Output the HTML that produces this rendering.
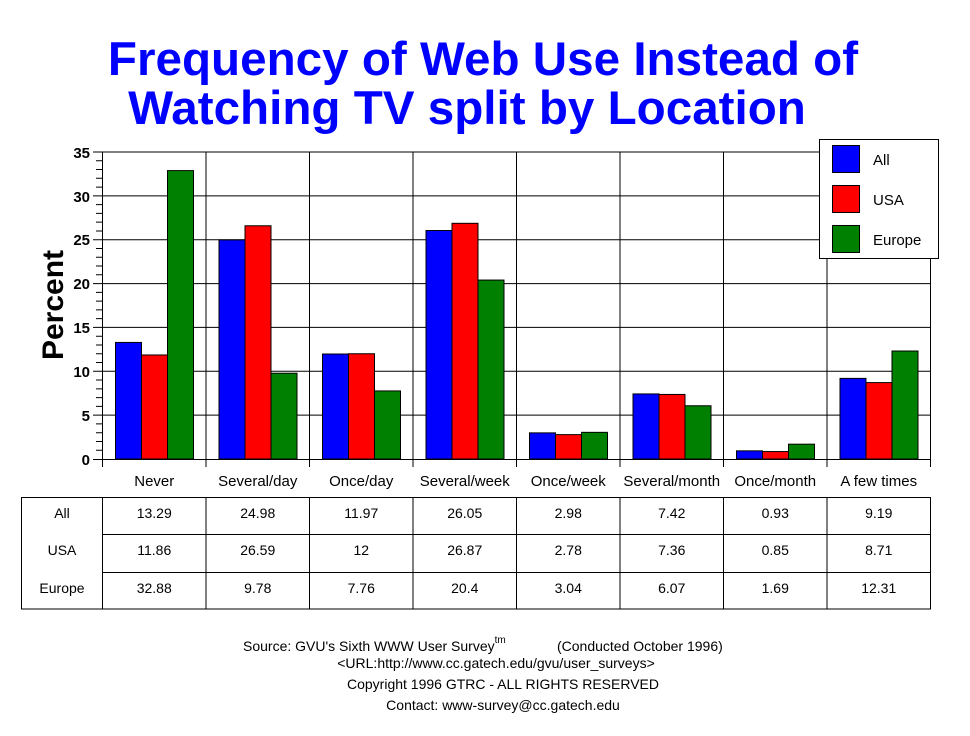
<!DOCTYPE html><html><head><style>body{margin:0;background:#fff}svg{display:block}text{font-family:"Liberation Sans",Arial,sans-serif}</style></head><body>
<svg width="970" height="736" xmlns="http://www.w3.org/2000/svg">
<text x="483" y="75" font-size="47.6" font-weight="bold" fill="#0000ff" text-anchor="middle">Frequency of Web Use Instead of</text>
<text x="467" y="124" font-size="47.6" font-weight="bold" fill="#0000ff" text-anchor="middle">Watching TV split by Location</text>
<text transform="translate(63,305) rotate(-90)" font-size="30" font-weight="bold" text-anchor="middle">Percent</text>
<g stroke="#000" stroke-width="1" fill="none">
<path d="M96 450.23H102.5M96 441.46H102.5M96 432.69H102.5M96 423.91H102.5M96 406.37H102.5M96 397.6H102.5M96 388.83H102.5M96 380.06H102.5M96 362.51H102.5M96 353.74H102.5M96 344.97H102.5M96 336.2H102.5M96 318.66H102.5M96 309.89H102.5M96 301.11H102.5M96 292.34H102.5M96 274.8H102.5M96 266.03H102.5M96 257.26H102.5M96 248.49H102.5M96 230.94H102.5M96 222.17H102.5M96 213.4H102.5M96 204.63H102.5M96 187.09H102.5M96 178.31H102.5M96 169.54H102.5M96 160.77H102.5"/>
<path d="M93 459.5H930M93 415.14H930M93 371.29H930M93 327.43H930M93 283.57H930M93 239.71H930M93 195.86H930M93 152H930"/>
<path d="M102.5 152V467M206 152V467M309.5 152V467M413 152V467M516.5 152V467M620 152V467M723.5 152V467M827 152V467M930.5 152V467"/>
</g>
<g font-size="15" text-anchor="end" font-weight="bold">
<text x="90" y="465">0</text><text x="90" y="421">5</text><text x="90" y="377">10</text><text x="90" y="333">15</text><text x="90" y="289">20</text><text x="90" y="245">25</text><text x="90" y="202">30</text><text x="90" y="158">35</text>
</g>
<g stroke="#000" fill="#0000ff">
<rect x="115.5" y="342.43" width="26" height="116.57"/><rect x="219" y="239.89" width="26" height="219.11"/><rect x="322.5" y="354.01" width="26" height="104.99"/><rect x="426" y="230.5" width="26" height="228.5"/><rect x="529.5" y="432.86" width="26" height="26.14"/><rect x="633" y="393.92" width="26" height="65.08"/><rect x="736.5" y="450.84" width="26" height="8.16"/><rect x="840" y="378.39" width="26" height="80.61"/>
</g>
<g stroke="#000" fill="#ff0000">
<rect x="141.5" y="354.97" width="26" height="104.03"/><rect x="245" y="225.77" width="26" height="233.23"/><rect x="348.5" y="353.74" width="26" height="105.26"/><rect x="452" y="223.31" width="26" height="235.69"/><rect x="555.5" y="434.62" width="26" height="24.38"/><rect x="659" y="394.44" width="26" height="64.56"/><rect x="762.5" y="451.54" width="26" height="7.46"/><rect x="866" y="382.6" width="26" height="76.4"/>
</g>
<g stroke="#000" fill="#008000">
<rect x="167.5" y="170.6" width="26" height="288.4"/><rect x="271" y="373.22" width="26" height="85.78"/><rect x="374.5" y="390.93" width="26" height="68.07"/><rect x="478" y="280.06" width="26" height="178.94"/><rect x="581.5" y="432.34" width="26" height="26.66"/><rect x="685" y="405.76" width="26" height="53.24"/><rect x="788.5" y="444.18" width="26" height="14.82"/><rect x="892" y="351.02" width="26" height="107.98"/>
</g>
<g font-size="15" text-anchor="middle">
<text x="154.25" y="486">Never</text><text x="257.75" y="486">Several/day</text><text x="361.25" y="486">Once/day</text><text x="464.75" y="486">Several/week</text><text x="568.25" y="486">Once/week</text><text x="671.75" y="486">Several/month</text><text x="775.25" y="486">Once/month</text><text x="878.75" y="486">A few times</text>
</g>
<g stroke="#000" fill="none">
<rect x="21.5" y="497.5" width="909" height="111.5"/>
<path d="M102.5 534.5H930M102.5 572.5H930M102.5 497V609M206 497V609M309.5 497V609M413 497V609M516.5 497V609M620 497V609M723.5 497V609M827 497V609"/>
</g>
<g font-size="14" text-anchor="middle">
<text x="62" y="518">All</text><text x="154.25" y="518">13.29</text><text x="257.75" y="518">24.98</text><text x="361.25" y="518">11.97</text><text x="464.75" y="518">26.05</text><text x="568.25" y="518">2.98</text><text x="671.75" y="518">7.42</text><text x="775.25" y="518">0.93</text><text x="878.75" y="518">9.19</text>
<text x="62" y="555">USA</text><text x="154.25" y="555">11.86</text><text x="257.75" y="555">26.59</text><text x="361.25" y="555">12</text><text x="464.75" y="555">26.87</text><text x="568.25" y="555">2.78</text><text x="671.75" y="555">7.36</text><text x="775.25" y="555">0.85</text><text x="878.75" y="555">8.71</text>
<text x="62" y="593">Europe</text><text x="154.25" y="593">32.88</text><text x="257.75" y="593">9.78</text><text x="361.25" y="593">7.76</text><text x="464.75" y="593">20.4</text><text x="568.25" y="593">3.04</text><text x="671.75" y="593">6.07</text><text x="775.25" y="593">1.69</text><text x="878.75" y="593">12.31</text>
</g>
<rect x="819.5" y="139.5" width="119" height="119" fill="#fff" stroke="#000"/>
<rect x="832.5" y="145.5" width="27" height="27" fill="#0000ff" stroke="#000"/>
<rect x="832.5" y="185.5" width="27" height="27" fill="#ff0000" stroke="#000"/>
<rect x="832.5" y="225.5" width="27" height="27" fill="#008000" stroke="#000"/>
<g font-size="15"><text x="873" y="165">All</text><text x="873" y="205">USA</text><text x="873" y="245">Europe</text></g>
<text x="243" y="651" font-size="14">Source: GVU's Sixth WWW User Survey<tspan font-size="10" dy="-8">tm</tspan></text>
<text x="557" y="651" font-size="14">(Conducted October 1996)</text>
<text x="496" y="668" font-size="14" text-anchor="middle">&lt;URL:http://www.cc.gatech.edu/gvu/user_surveys&gt;</text>
<text x="503" y="689" font-size="14" text-anchor="middle">Copyright 1996 GTRC - ALL RIGHTS RESERVED</text>
<text x="503" y="710" font-size="14" text-anchor="middle">Contact: www-survey@cc.gatech.edu</text>
</svg></body></html>
